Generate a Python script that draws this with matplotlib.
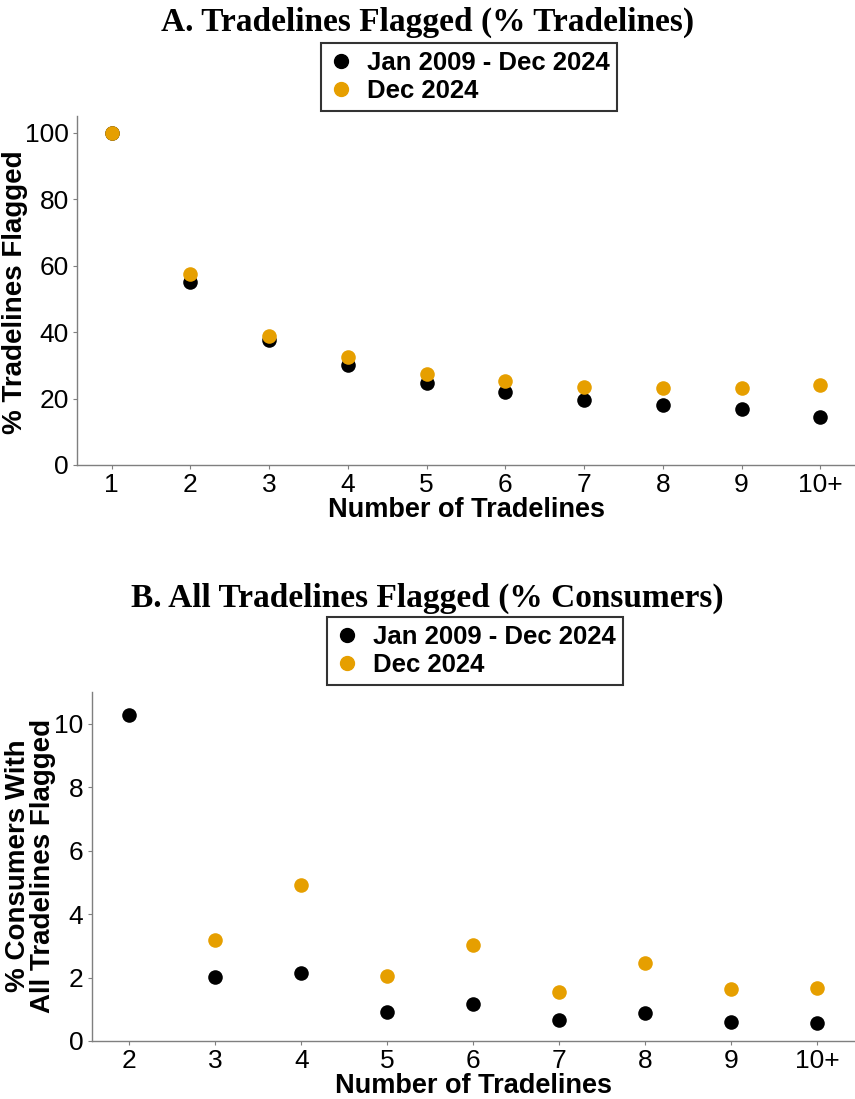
import numpy as np
import matplotlib.pyplot as plt
from matplotlib.lines import Line2D

# data
labels_a = ["1", "2", "3", "4", "5", "6", "7", "8", "9", "10+"]
all_a = [100, 55.0, 37.6, 30.0, 24.8, 21.9, 19.6, 18.2, 16.9, 14.4]
dec_a = [100, 57.4, 38.9, 32.4, 27.3, 25.2, 23.4, 23.1, 23.1, 24.2]

labels_b = ["2", "3", "4", "5", "6", "7", "8", "9", "10+"]
all_b = [10.29, 2.02, 2.14, 0.92, 1.16, 0.67, 0.88, 0.61, 0.57]
dec_b = [np.nan, 3.18, 4.93, 2.05, 3.04, 1.54, 2.45, 1.63, 1.67]

BLACK = "#000000"
ORANGE = "#E69F00"
SANS = "Liberation Sans"
SERIF = "Liberation Serif"
W, H = 855, 1099

fig = plt.figure(figsize=(W / 100, H / 100), dpi=100)


def style_axes(ax, labels, ylim, yticks):
    x = np.arange(len(labels))
    ax.set_xticks(x)
    ax.set_xticklabels(labels)
    ax.set_xlim(-0.44, len(labels) - 1 + 0.44)
    ax.set_ylim(*ylim)
    ax.set_yticks(yticks)
    for s in ["top", "right"]:
        ax.spines[s].set_visible(False)
    for s in ["left", "bottom"]:
        ax.spines[s].set_color("#7f7f7f")
        ax.spines[s].set_linewidth(1.0)
    ax.tick_params(axis="both", length=3, color="#7f7f7f", labelsize=19, pad=3)
    for t in ax.get_xticklabels() + ax.get_yticklabels():
        t.set_fontfamily(SANS)
    ax.set_xlabel("Number of Tradelines", fontsize=19.5, fontweight="bold",
                  fontfamily=SANS, labelpad=0)
    return x


def add_legend(ax, loc_xy):
    handles = [
        Line2D([], [], marker="o", linestyle="none", color=BLACK, markersize=10),
        Line2D([], [], marker="o", linestyle="none", color=ORANGE, markersize=10),
    ]
    leg = ax.legend(handles, ["Jan 2009 - Dec 2024", "Dec 2024"],
                    loc="center", bbox_to_anchor=loc_xy,
                    bbox_transform=fig.transFigure,
                    prop={"family": SANS, "weight": "bold", "size": 18.5},
                    frameon=True, fancybox=False, handletextpad=0.5,
                    borderpad=0.3, labelspacing=0.15, handlelength=1.0,
                    borderaxespad=0)
    leg.get_frame().set_edgecolor("black")
    leg.get_frame().set_linewidth(1.5)


# Panel A
axA = fig.add_axes([77 / W, 1 - 465 / H, 1 - 77 / W, (465 - 116) / H])
xa = style_axes(axA, labels_a, (0, 105), [0, 20, 40, 60, 80, 100])
axA.scatter(xa, all_a, s=110, color=BLACK, zorder=3, linewidths=0)
axA.scatter(xa, dec_a, s=110, color=ORANGE, zorder=4, linewidths=0)
fig.text(15 / W, 1 - 292 / H, "% Tradelines Flagged", rotation=90,
         ha="center", va="center", fontsize=20, fontweight="bold",
         fontfamily=SANS)
fig.text(0.5, 1 - 22 / H, "A. Tradelines Flagged (% Tradelines)", ha="center",
         va="center", fontsize=24, fontweight="bold", fontfamily=SERIF)
add_legend(axA, (469 / W, 1 - 77 / H))

# Panel B
axB = fig.add_axes([91.6 / W, 1 - 1041 / H, 1 - 91.6 / W, (1041 - 692) / H])
xb = style_axes(axB, labels_b, (0, 11), [0, 2, 4, 6, 8, 10])
axB.scatter(xb, all_b, s=110, color=BLACK, zorder=3, linewidths=0)
axB.scatter(xb, dec_b, s=110, color=ORANGE, zorder=4, linewidths=0)
fig.text(31 / W, 1 - 866 / H, "% Consumers With\nAll Tradelines Flagged",
         rotation=90, ha="center", va="center", fontsize=20,
         fontweight="bold", fontfamily=SANS, linespacing=0.95)
fig.text(0.5, 1 - 598 / H, "B. All Tradelines Flagged (% Consumers)",
         ha="center", va="center", fontsize=24, fontweight="bold",
         fontfamily=SERIF)
add_legend(axB, (475 / W, 1 - 651 / H))

fig.savefig("out.png", dpi=100)
